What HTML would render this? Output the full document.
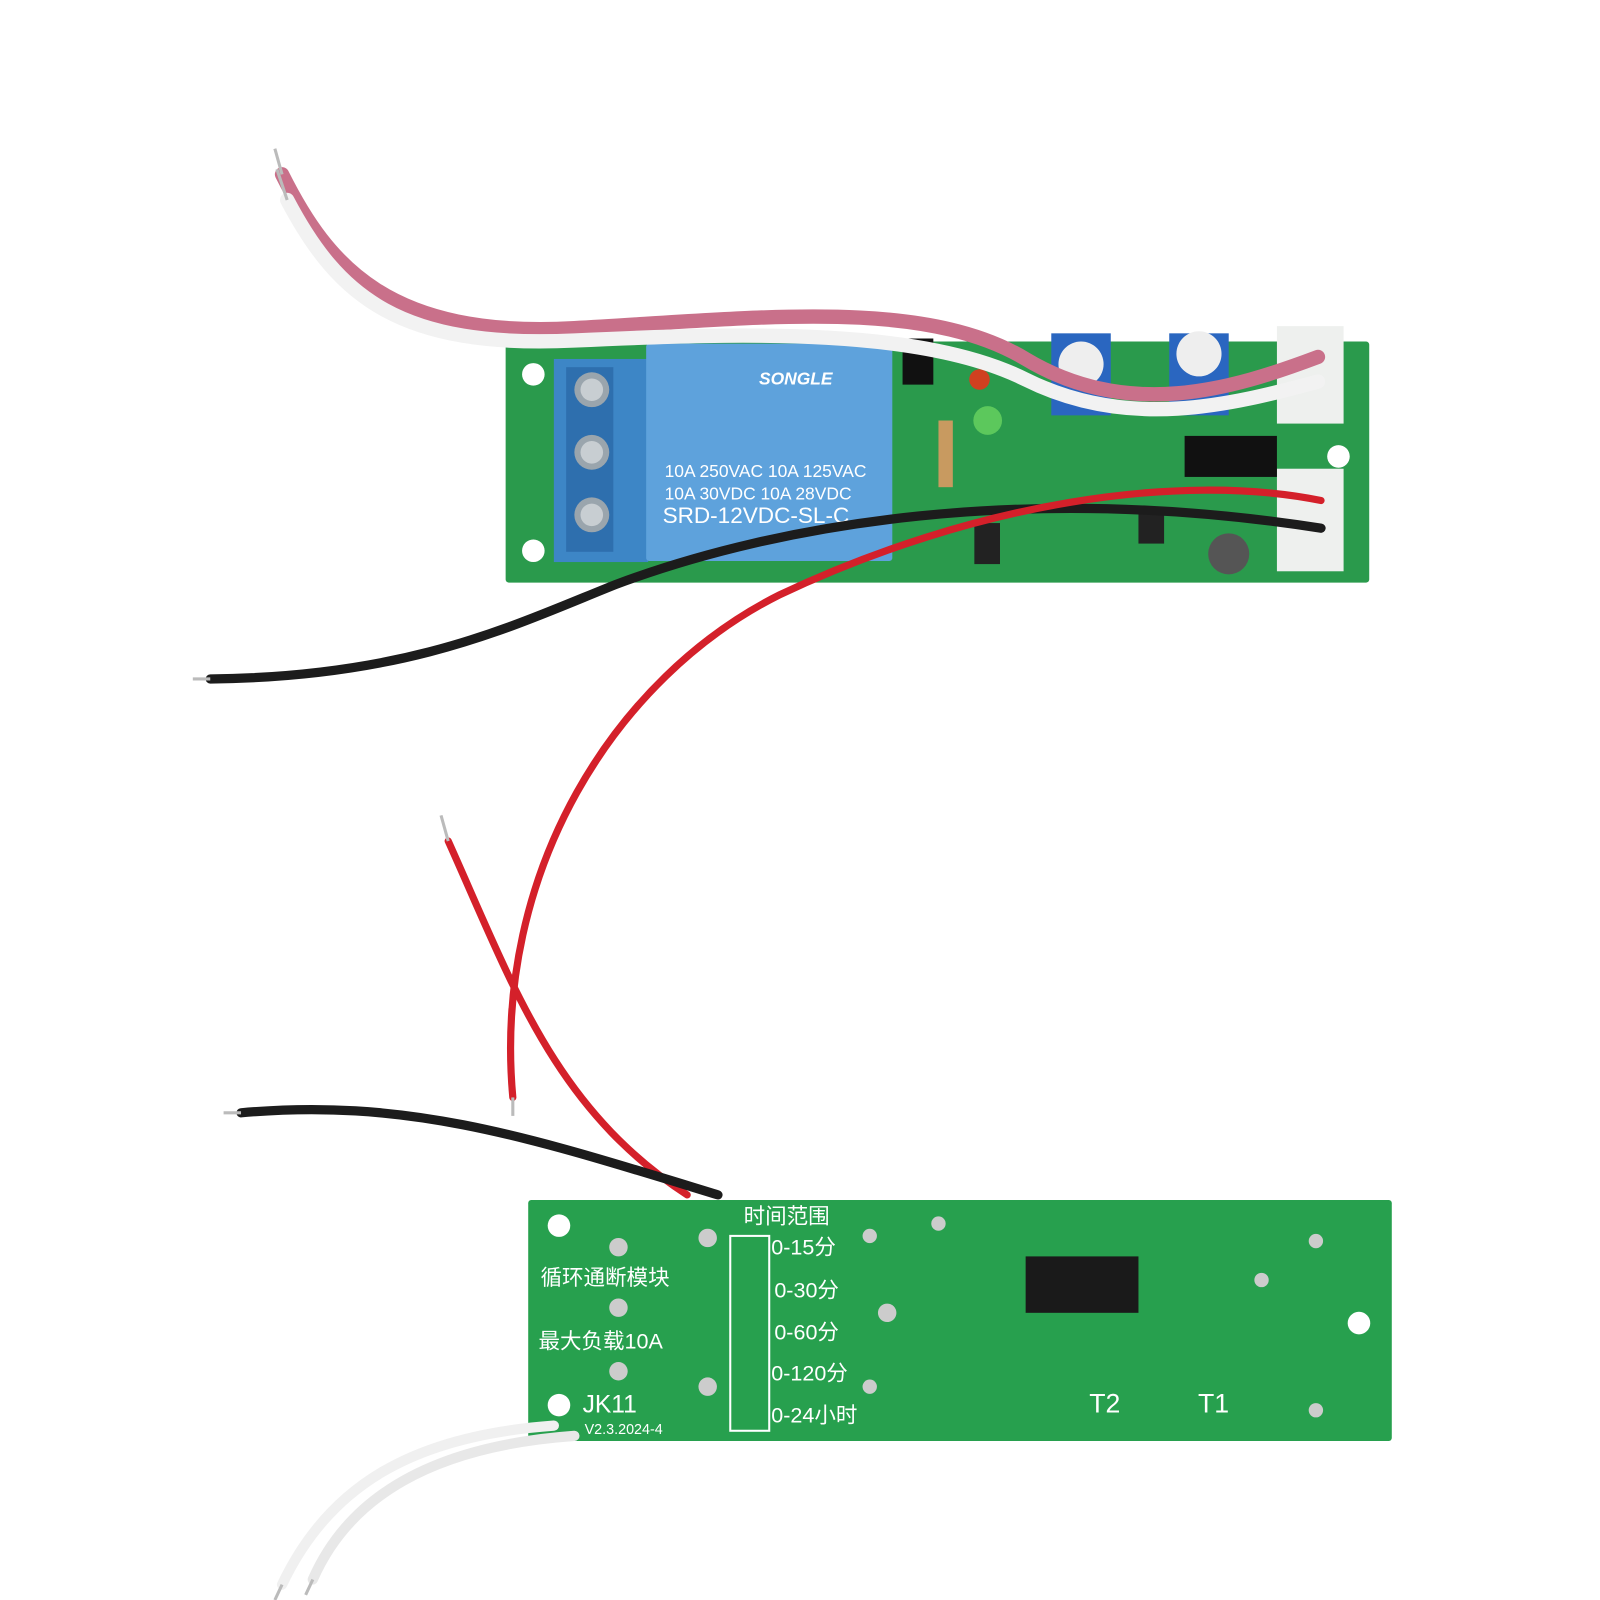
<!DOCTYPE html>
<html><head><meta charset="utf-8"><style>
html,body{margin:0;padding:0;background:#fff;}
svg{display:block;}
text{font-family:"Liberation Sans","Noto Sans CJK SC",sans-serif;}
</style></head><body>
<svg width="1600" height="1600" viewBox="0 0 1560 1560" xmlns="http://www.w3.org/2000/svg">
<rect width="1560" height="1560" fill="#fff"/>
<rect x="493" y="333" width="842" height="235" fill="#2a9a4c" rx="3"/>
<circle cx="520" cy="365" r="11" fill="#fff"/>
<circle cx="520" cy="537" r="11" fill="#fff"/>
<circle cx="1305" cy="445" r="11" fill="#fff"/>
<rect x="540" y="350" width="92" height="198" fill="#3d86c6"/>
<rect x="552" y="358" width="46" height="180" fill="#2e6fae"/>
<circle cx="577" cy="380" r="17" fill="#9aa5ad"/><circle cx="577" cy="380" r="11" fill="#c8ced2"/>
<circle cx="577" cy="441" r="17" fill="#9aa5ad"/><circle cx="577" cy="441" r="11" fill="#c8ced2"/>
<circle cx="577" cy="502" r="17" fill="#9aa5ad"/><circle cx="577" cy="502" r="11" fill="#c8ced2"/>
<rect x="630" y="335" width="240" height="212" fill="#5ea2dc" rx="3"/>
<text x="740" y="375" font-size="17" font-style="italic" font-weight="bold" fill="#fff">SONGLE</text>
<text x="648" y="465" font-size="17" fill="#fff">10A 250VAC  10A 125VAC</text>
<text x="648" y="487" font-size="17" fill="#fff">10A  30VDC  10A 28VDC</text>
<text x="646" y="510" font-size="22" fill="#fff">SRD-12VDC-SL-C</text>
<rect x="1025" y="325" width="58" height="80" fill="#2a66c0"/>
<circle cx="1054" cy="355" r="22" fill="#eee"/>
<rect x="1140" y="325" width="58" height="80" fill="#2a66c0"/>
<circle cx="1169" cy="345" r="22" fill="#eee"/>
<rect x="1245" y="318" width="65" height="95" fill="#eef0ee"/>
<rect x="1245" y="457" width="65" height="100" fill="#eef0ee"/>
<circle cx="963" cy="410" r="14" fill="#5cc85c"/>
<circle cx="955" cy="370" r="10" fill="#d04020"/>
<rect x="915" y="410" width="14" height="65" fill="#c89a60"/>
<rect x="1155" y="425" width="90" height="40" fill="#111"/>
<circle cx="1198" cy="540" r="20" fill="#555"/>
<rect x="950" y="510" width="25" height="40" fill="#222"/>
<rect x="1110" y="495" width="25" height="35" fill="#222"/>
<path d="M880 330 h30 v45 h-30z" fill="#111"/>
<rect x="515" y="1170" width="842" height="235" fill="#27a04e" rx="3"/>
<circle cx="545" cy="1195" r="11" fill="#fff"/>
<circle cx="545" cy="1370" r="11" fill="#fff"/>
<circle cx="1325" cy="1290" r="11" fill="#fff"/>
<rect x="1000" y="1225" width="110" height="55" fill="#1a1a1a"/>
<rect x="712" y="1205" width="38" height="190" fill="none" stroke="#fff" stroke-width="2"/>
<g fill="#fff" font-size="21">
<text x="725" y="1193">时间范围</text>
<text x="752" y="1223">0-15分</text>
<text x="755" y="1265">0-30分</text>
<text x="755" y="1306">0-60分</text>
<text x="752" y="1346">0-120分</text>
<text x="752" y="1387">0-24小时</text>
<text x="527" y="1253">循环通断模块</text>
<text x="525" y="1315">最大负载10A</text>
<text x="568" y="1377" font-size="24">JK11</text>
<text x="570" y="1398" font-size="14">V2.3.2024-4</text>
<text x="1062" y="1377" font-size="26">T2</text>
<text x="1168" y="1377" font-size="26">T1</text>
</g>
<g fill="#ccc">
<circle cx="603" cy="1216" r="9"/><circle cx="603" cy="1275" r="9"/><circle cx="603" cy="1337" r="9"/>
<circle cx="690" cy="1207" r="9"/><circle cx="865" cy="1280" r="9"/><circle cx="690" cy="1352" r="9"/>
<circle cx="848" cy="1205" r="7"/><circle cx="915" cy="1193" r="7"/><circle cx="848" cy="1352" r="7"/>
<circle cx="1230" cy="1248" r="7"/><circle cx="1283" cy="1210" r="7"/><circle cx="1283" cy="1375" r="7"/>
</g>
<g fill="none" stroke-linecap="round">
<path d="M275 170 C320 260 380 330 560 320 S900 290 1000 350 S1200 380 1285 348" stroke="#c9708a" stroke-width="14"/>
<path d="M280 195 C330 290 390 340 560 332 S900 320 1000 370 S1200 395 1285 372" stroke="#f2f2f2" stroke-width="14"/>
<path d="M205 662 C400 660 500 610 600 570 C760 510 1000 470 1288 515" stroke="#1c1c1c" stroke-width="9"/>
<path d="M500 1070 C480 850 600 660 760 580 C950 490 1150 460 1288 488" stroke="#d4202a" stroke-width="7"/>
<path d="M437 820 C500 960 540 1080 670 1165" stroke="#d4202a" stroke-width="7"/>
<path d="M235 1085 C400 1070 520 1110 700 1165" stroke="#1c1c1c" stroke-width="9"/>
<path d="M275 1545 C320 1450 400 1400 540 1390" stroke="#f0f0f0" stroke-width="10"/>
<path d="M305 1540 C340 1460 420 1410 560 1400" stroke="#e8e8e8" stroke-width="10"/>
</g>
<g stroke="#bbb" stroke-width="3">
<line x1="268" y1="145" x2="275" y2="170"/><line x1="270" y1="165" x2="280" y2="195"/>
<line x1="188" y1="662" x2="205" y2="662"/><line x1="430" y1="795" x2="437" y2="820"/>
<line x1="500" y1="1070" x2="500" y2="1088"/><line x1="218" y1="1085" x2="235" y2="1085"/>
<line x1="275" y1="1545" x2="268" y2="1560"/><line x1="305" y1="1540" x2="298" y2="1555"/>
</g>
</svg>
</body></html>
